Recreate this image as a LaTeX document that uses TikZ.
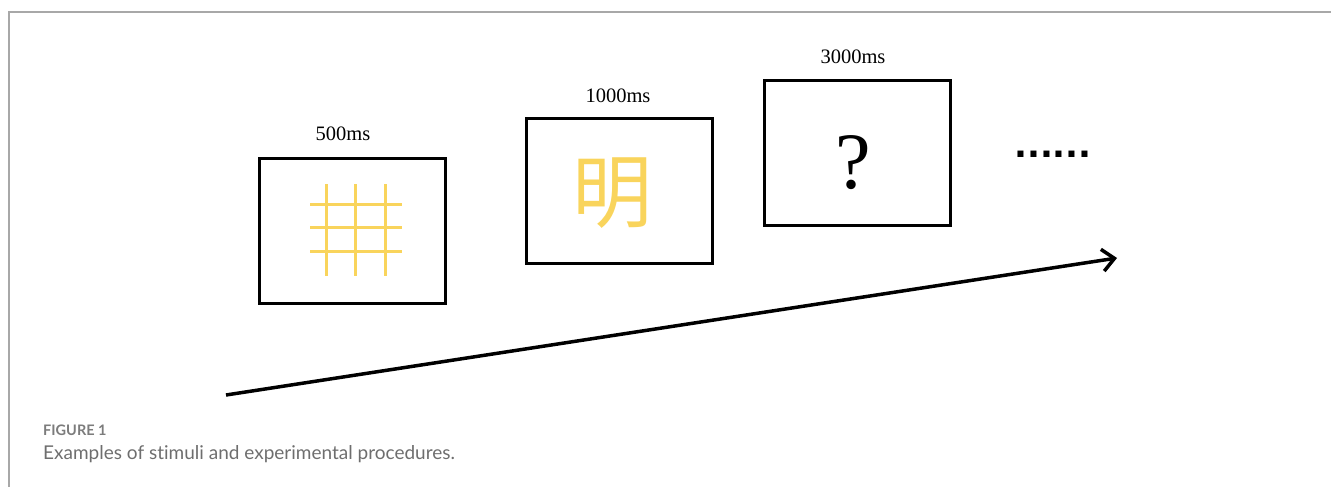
\documentclass[tikz,border=0pt]{standalone}
\usepackage{fontspec}
\setmainfont{Liberation Serif}
\newfontfamily\cjkfont{Noto Sans CJK SC}
\newfontfamily\capfont[Ligatures={NoCommon,NoRare}]{Lato}
\newfontfamily\dotfont{DejaVu Sans}
\usetikzlibrary{arrows.meta}
\definecolor{stimyellow}{HTML}{F9D45C}
\definecolor{framegray}{HTML}{A8A8A8}
\definecolor{capgray}{HTML}{6E6E6E}
\tikzset{
  screen/.style={draw=black, line width=3.3pt, minimum width=186pt, minimum height=145pt, inner sep=0pt},
  durlabel/.style={font=\fontsize{20.5}{22}\selectfont, inner sep=0pt},
  gridline/.style={draw=stimyellow, line width=3pt},
  timeline/.style={line width=3.5pt, -{Straight Barb[length=12pt,width=22pt,line width=3.5pt]}}
}
\begin{document}
\begin{tikzpicture}[x=1pt,y=-1pt]
\useasboundingbox (0,0) rectangle (1331,487);
% frame
\draw[framegray, line width=2pt] (9,487) -- (9,12) -- (1331,12);
% screens
\node[screen] (s1) at (352.5,231) {};
\node[screen] (s2) at (619.5,191) {};
\node[screen] (s3) at (857.5,153) {};
% labels
\node[durlabel] (l1) at (343,134) {500ms};
\node[durlabel] (l2) at (618,96) {1000ms};
\node[durlabel] (l3) at (853,57) {3000ms};
% grid stimulus
\coordinate (g1) at (326,184); \coordinate (g1e) at (326,276);
\coordinate (g2) at (355,184); \coordinate (g2e) at (355,276);
\coordinate (g3) at (385,184); \coordinate (g3e) at (385,276);
\coordinate (h1) at (310,204); \coordinate (h1e) at (402,204);
\coordinate (h2) at (310,227); \coordinate (h2e) at (402,227);
\coordinate (h3) at (310,251); \coordinate (h3e) at (402,251);
\draw[gridline] (g1) -- (g1e);
\draw[gridline] (g2) -- (g2e);
\draw[gridline] (g3) -- (g3e);
\draw[gridline] (h1) -- (h1e);
\draw[gridline] (h2) -- (h2e);
\draw[gridline] (h3) -- (h3e);
% character
\node[text=stimyellow, font=\cjkfont\fontsize{80}{80}\selectfont, inner sep=0pt] (ch) at (612,193) {明};
% question mark
\node[font=\fontsize{80}{80}\selectfont, inner sep=0pt, anchor=base] (q) at (853,188) {?};
% ellipsis dots
\node[font=\dotfont\bfseries\fontsize{34}{34}\selectfont, inner sep=0pt, anchor=base west] (dots) at (1014,157) {......};
% timeline arrow
\coordinate (ta) at (226,395);
\coordinate (tb) at (1117,258);
\draw[timeline] (ta) -- (tb);
% caption
\node[font=\capfont\bfseries\fontsize{14.5}{16}\selectfont, text=capgray!90, anchor=base west, inner sep=0pt] (fig) at (43,435) {FIGURE 1};
\node[font=\capfont\fontsize{19}{21}\selectfont, text=capgray, anchor=base west, inner sep=0pt] (cap) at (43,459) {Examples of stimuli and experimental procedures.};
\end{tikzpicture}
\end{document}
